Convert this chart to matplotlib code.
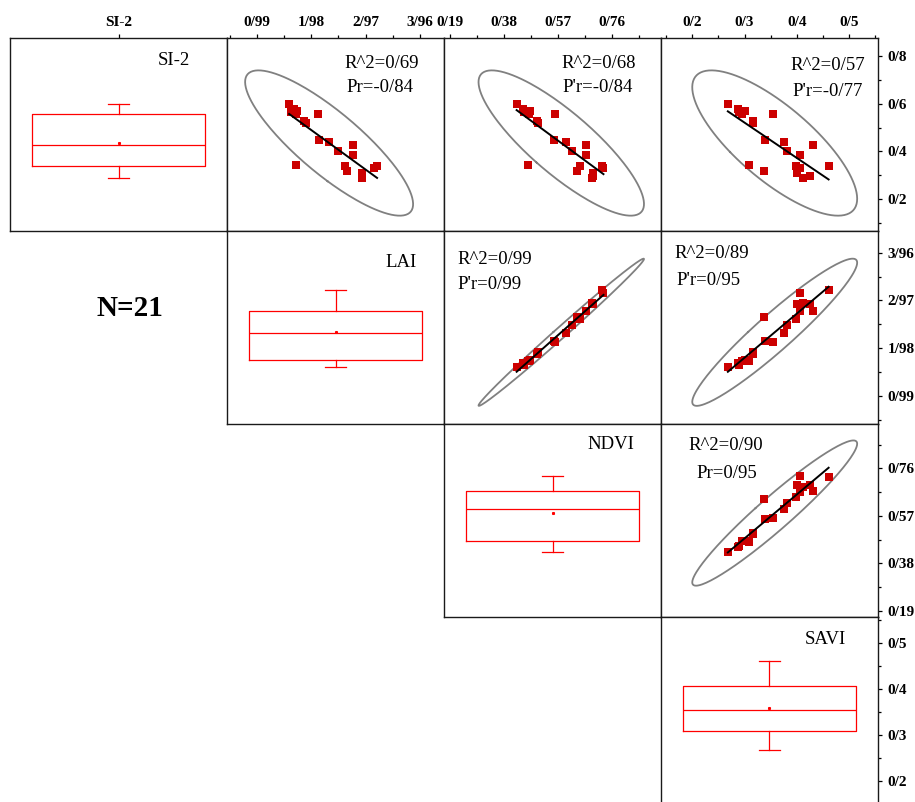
import numpy as np
import matplotlib
matplotlib.use("Agg")
import matplotlib.pyplot as plt
from matplotlib.ticker import FixedLocator, MultipleLocator

# 21 samples, values
si2 = [0.598, 0.577, 0.567, 0.556, 0.570, 0.344, 0.529, 0.518, 0.318, 0.448, 0.557,
       0.439, 0.402, 0.339, 0.309, 0.332, 0.384, 0.288, 0.299, 0.427, 0.341]
lai = [1.58, 1.66, 1.62, 1.71, 1.73, 1.70, 1.85, 1.89, 2.63, 2.13, 2.10,
       2.30, 2.46, 2.59, 2.90, 3.12, 2.74, 2.91, 2.90, 2.75, 3.18]
ndvi = [0.424, 0.445, 0.449, 0.468, 0.470, 0.465, 0.496, 0.500, 0.637, 0.556, 0.560,
        0.596, 0.620, 0.647, 0.693, 0.729, 0.667, 0.687, 0.693, 0.669, 0.725]
savi = [0.268, 0.287, 0.289, 0.295, 0.301, 0.309, 0.316, 0.317, 0.337, 0.340, 0.355,
        0.376, 0.381, 0.399, 0.401, 0.406, 0.407, 0.411, 0.425, 0.432, 0.461]

names = ["SI-2", "LAI", "NDVI", "SAVI"]
data = [si2, lai, ndvi, savi]

si2_ticks = [0.2, 0.4, 0.6, 0.8]
lai_ticks = [0.99, 1.98, 2.97, 3.96]
ndvi_ticks = [0.19, 0.38, 0.57, 0.76]
savi_ticks = [0.2, 0.3, 0.4, 0.5]
tick_sets = [si2_ticks, lai_ticks, ndvi_ticks, savi_ticks]

stat_text = {
    (0, 1): ("R^2=0/69", "Pr=-0/84"),
    (0, 2): ("R^2=0/68", "P'r=-0/84"),
    (0, 3): ("R^2=0/57", "P'r=-0/77"),
    (1, 2): ("R^2=0/99", "P'r=0/99"),
    (1, 3): ("R^2=0/89", "P'r=0/95"),
    (2, 3): ("R^2=0/90", "Pr=0/95"),
}
n_label = "N=21"

# axis limits (x when variable is on a column, y when on a row)
xlims = [None, (0.449, 4.398), (0.169, 0.931), (0.140, 0.555)]
ylims = [(0.067, 0.875), (0.402, 4.41), (0.165, 0.937), (0.137, 0.556)]

# text anchors in axes fraction: (x1, y1, x2, y2)
stat_pos = {
    (0, 1): (0.54, 0.869, 0.552, 0.745),
    (0, 2): (0.542, 0.869, 0.545, 0.745),
    (0, 3): (0.597, 0.86, 0.608, 0.722),
    (1, 2): (0.063, 0.853, 0.063, 0.724),
    (1, 3): (0.062, 0.881, 0.073, 0.742),
    (2, 3): (0.126, 0.891, 0.162, 0.745),
}
name_pos = [(0.68, 0.882), (0.731, 0.836), (0.66, 0.896), (0.662, 0.886)]

F_95 = 3.5219  # F(0.95; 2, 19)

plt.rcParams["font.family"] = ["Liberation Serif", "DejaVu Serif"]
SERIF = "Liberation Serif"
RED = "#ff0000"
PT_RED = "#cc0000"


def fmt(v):
    return str(v).replace(".", "/")


def pred_ellipse(x, y):
    x = np.asarray(x)
    y = np.asarray(y)
    n = len(x)
    cov = np.cov(x, y)
    vals, vecs = np.linalg.eigh(cov)
    k = np.sqrt(2 * (n + 1) * (n - 1) / (n * (n - 2)) * F_95)
    t = np.linspace(0, 2 * np.pi, 200)
    circ = np.vstack([np.cos(t), np.sin(t)])
    pts = vecs @ (np.sqrt(vals)[:, None] * circ) * k
    return x.mean() + pts[0], y.mean() + pts[1]


W, H = 915, 802
fig = plt.figure(figsize=(W / 100, H / 100), dpi=100)
col_x = [10, 227, 444, 661]
col_w = [217, 217, 217, 216.7]
row_y = [38, 231, 424, 617]
row_h = 193

for r in range(4):
    for c in range(r, 4):
        ax = fig.add_axes([col_x[c] / W, 1 - (row_y[r] + row_h) / H, col_w[c] / W, row_h / H])
        for s in ax.spines.values():
            s.set_linewidth(1.0)
            s.set_color("#1a1a1a")
        ax.tick_params(which="both", bottom=False, left=False, top=False, right=False,
                       labelbottom=False, labelleft=False)
        ax.set_ylim(*ylims[r])

        if r == c:
            ax.boxplot([data[r]], positions=[1], widths=1.6, whis=(0, 100),
                       showmeans=True, showfliers=False, capwidths=0.19,
                       boxprops=dict(color=RED, linewidth=0.9),
                       medianprops=dict(color=RED, linewidth=0.9),
                       whiskerprops=dict(color=RED, linewidth=0.9),
                       capprops=dict(color=RED, linewidth=0.9),
                       meanprops=dict(marker="s", markersize=1.2,
                                      markerfacecolor=RED, markeredgecolor=RED))
            ax.set_xlim(0, 2)
            nx, ny = name_pos[r]
            ax.text(nx, ny, names[r], transform=ax.transAxes, fontsize=13.5,
                    family=SERIF, va="center", ha="left")
            ax.xaxis.set_major_locator(FixedLocator([1]))
            ax.set_xticklabels([names[0]] if r == 0 else [""])
        else:
            x = np.asarray(data[c])
            y = np.asarray(data[r])
            ex, ey = pred_ellipse(x, y)
            ax.plot(ex, ey, color="#808080", linewidth=1.3)
            ax.scatter(x, y, marker="s", s=26, color=PT_RED, zorder=3, linewidths=0)
            b, a = np.polyfit(x, y, 1)
            xs = np.array([x.min(), x.max()])
            ax.plot(xs, a + b * xs, color="black", linewidth=1.4, zorder=4)
            ax.set_xlim(*xlims[c])
            t1, t2 = stat_text[(r, c)]
            x1, y1, x2, y2 = stat_pos[(r, c)]
            ax.text(x1, y1, t1, transform=ax.transAxes, fontsize=13.5, family=SERIF,
                    va="center", ha="left")
            ax.text(x2, y2, t2, transform=ax.transAxes, fontsize=13.5, family=SERIF,
                    va="center", ha="left")
            ax.xaxis.set_major_locator(FixedLocator(tick_sets[c]))
            ax.xaxis.set_minor_locator(MultipleLocator((tick_sets[c][1] - tick_sets[c][0]) / 2))
            ax.set_xticklabels([fmt(v) for v in tick_sets[c]])

        if r == 0:
            ax.tick_params(axis="x", which="both", top=True, labeltop=True, direction="out")
            ax.tick_params(axis="x", which="major", length=3, width=0.9, pad=3.5)
            ax.tick_params(axis="x", which="minor", length=2, width=0.9)
            if c == 0:
                ax.tick_params(axis="x", which="minor", top=False)
            for lab in ax.get_xticklabels():
                lab.set_fontweight("bold")
                lab.set_fontsize(11)
                lab.set_family(SERIF)
        if c == 3:
            ax.yaxis.set_major_locator(FixedLocator(tick_sets[r]))
            ax.yaxis.set_minor_locator(MultipleLocator((tick_sets[r][1] - tick_sets[r][0]) / 2))
            ax.set_yticklabels([fmt(v) for v in tick_sets[r]])
            ax.tick_params(axis="y", which="both", right=True, labelright=True, direction="out")
            ax.tick_params(axis="y", which="major", length=3, width=0.9, pad=4)
            ax.tick_params(axis="y", which="minor", length=2, width=0.9)
            for lab in ax.get_yticklabels():
                lab.set_fontweight("bold")
                lab.set_fontsize(11)
                lab.set_family(SERIF)

fig.text(130 / W, 1 - 308 / H, n_label, fontsize=21, fontweight="bold", family=SERIF,
         ha="center", va="center")

fig.savefig("out.png", dpi=100)
